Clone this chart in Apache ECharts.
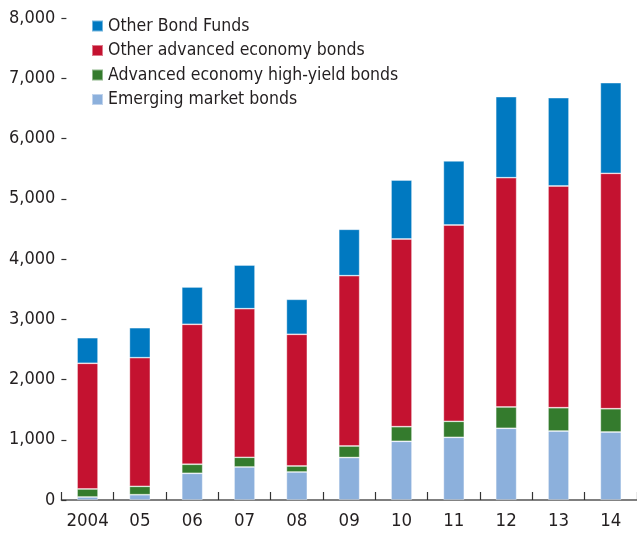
<!DOCTYPE html>
<html>
<head>
<meta charset="utf-8">
<script src="https://cdn.jsdelivr.net/npm/echarts@6/dist/echarts.min.js"></script>
<style>
html,body{margin:0;padding:0;background:#fff;}
#chart{width:637px;height:533px;}
</style>
</head>
<body>
<div id="chart"></div>
<script>
const categories = ['2004','05','06','07','08','09','10','11','12','13','14'];
const emergingMarket = [50, 88, 443, 548, 465, 705, 974, 1040, 1190, 1145, 1129];
const advHighYield = [133, 139, 150, 161, 99, 191, 243, 266, 354, 387, 386];
const otherAdvanced = [2086, 2135, 2323, 2466, 2186, 2827, 3115, 3258, 3805, 3680, 3907];
const otherBondFunds = [425, 498, 619, 725, 581, 770, 979, 1063, 1345, 1465, 1504];
const yTicks = [0, 1000, 2000, 3000, 4000, 5000, 6000, 7000, 8000];

const FONT = '"Liberation Sans Narrow", "DejaVu Sans Condensed", "Roboto", sans-serif';
const TXT = '#231f20';

const chart = echarts.init(document.getElementById('chart'), null, {renderer: 'canvas'});
function bar(name, data, color) {
  return {
    name: name, type: 'bar', stack: 'total', data: data, barWidth: '40%',
    itemStyle: {color: color, borderColor: 'rgba(255,255,255,0.45)', borderWidth: 0.8},
    emphasis: {disabled: true}
  };
}
chart.setOption({
  animation: false,
  backgroundColor: '#fff',
  textStyle: {fontFamily: FONT},
  grid: {left: 61.4, right: -6, top: 18, bottom: 33, containLabel: false},
  legend: {
    orient: 'vertical', left: 86, top: 12, itemGap: 6.5,
    itemWidth: 11, itemHeight: 11, icon: 'rect',
    textStyle: {fontFamily: FONT, fontSize: 17.5, color: TXT, padding: [0, 0, 0, 0]},
    data: ['Other Bond Funds', 'Other advanced economy bonds', 'Advanced economy high-yield bonds', 'Emerging market bonds']
  },
  xAxis: {
    type: 'category', data: categories,
    axisLine: {show: true, lineStyle: {color: '#555', width: 1.5}},
    axisTick: {show: true, inside: true, length: 8, interval: 0, alignWithLabel: false, lineStyle: {color: '#333', width: 1.2}},
    axisLabel: {fontFamily: FONT, fontSize: 18.5, color: TXT, margin: 12, interval: 0}
  },
  yAxis: {
    type: 'value', min: yTicks[0], max: yTicks[yTicks.length - 1], interval: 1000,
    axisLine: {show: false},
    axisTick: {show: true, inside: true, length: 5, lineStyle: {color: '#333', width: 1.2}},
    splitLine: {show: false},
    axisLabel: {fontFamily: FONT, fontSize: 18, color: TXT, margin: 6,
      formatter: v => v.toLocaleString('en-US')}
  },
  series: [
    bar('Emerging market bonds', emergingMarket, '#8cb0dc'),
    bar('Advanced economy high-yield bonds', advHighYield, '#347b2d'),
    bar('Other advanced economy bonds', otherAdvanced, '#c41230'),
    bar('Other Bond Funds', otherBondFunds, '#0079c1')
  ]
});
</script>
</body>
</html>
